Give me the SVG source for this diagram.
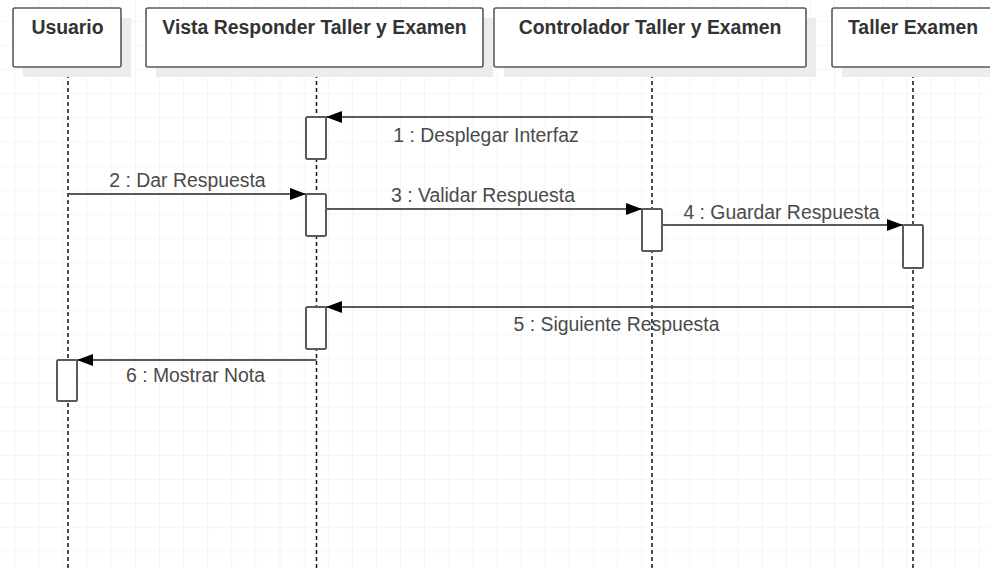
<svg xmlns="http://www.w3.org/2000/svg" width="990" height="569" viewBox="0 0 990 569">
<style>
.shadow{fill:#ececec;stroke:none}
.box{fill:#ffffff;stroke:#5a5a5a;stroke-width:1.6}
.title{font-family:"Liberation Sans",Arial,sans-serif;font-size:19.4px;font-weight:bold;fill:#333333;text-anchor:middle}
.life{stroke:#111111;stroke-width:1.5;stroke-dasharray:4,3;fill:none}
.act{fill:#ffffff;stroke:#5a5a5a;stroke-width:2}
.msg{stroke:#5a5a5a;stroke-width:2;fill:none;marker-end:url(#arrow)}
.lbl{font-family:"Liberation Sans",Arial,sans-serif;font-size:19.4px;fill:#4a4a4a;text-anchor:middle}
</style>
<defs>
<pattern id="grid" patternUnits="userSpaceOnUse" x="14.3" y="20.9" width="24.11" height="24.11">
<path d="M0,0 H24.11 M0,0 V24.11" stroke="#ededed" stroke-width="1.2" fill="none"/>
</pattern>
<marker id="arrow" markerUnits="userSpaceOnUse" markerWidth="17" markerHeight="13" refX="16" refY="6" orient="auto">
<path d="M0,0 L16,6 L0,12 z" fill="#000000"/>
</marker>
</defs>
<rect x="0" y="0" width="990" height="569" fill="#ffffff"/>
<rect x="0" y="0" width="990" height="569" fill="url(#grid)"/>

<g id="lifelines">
<line class="life" x1="68" y1="67" x2="68" y2="569"/>
<line class="life" x1="316.5" y1="67" x2="316.5" y2="569"/>
<line class="life" x1="652" y1="67" x2="652" y2="569"/>
<line class="life" x1="913" y1="67" x2="913" y2="569"/>
</g>

<g id="usuario">
<rect class="shadow" x="23" y="18" width="108" height="59"/>
<rect class="box" x="13" y="8" width="108" height="59" rx="2"/>
<text class="title" x="67.5" y="34">Usuario</text>
</g>
<g id="vista">
<rect class="shadow" x="156" y="18" width="337" height="59"/>
<rect class="box" x="146" y="8" width="337" height="59" rx="2"/>
<text class="title" x="314.5" y="34">Vista Responder Taller y Examen</text>
</g>
<g id="controlador">
<rect class="shadow" x="504" y="18" width="312" height="59"/>
<rect class="box" x="494" y="8" width="312" height="59" rx="2"/>
<text class="title" x="650" y="34">Controlador Taller y Examen</text>
</g>
<g id="taller">
<rect class="shadow" x="842" y="18" width="162" height="59"/>
<rect class="box" x="832" y="8" width="162" height="59" rx="2"/>
<text class="title" x="913" y="34">Taller Examen</text>
</g>

<g id="activations">
<rect class="act" x="306" y="117" width="20" height="42" rx="1.5"/>
<rect class="act" x="306" y="194" width="20" height="42" rx="1.5"/>
<rect class="act" x="642" y="209" width="20" height="42" rx="1.5"/>
<rect class="act" x="903" y="225" width="20" height="43" rx="1.5"/>
<rect class="act" x="306" y="307" width="20" height="42" rx="1.5"/>
<rect class="act" x="57" y="360" width="20" height="41" rx="1.5"/>
</g>

<g id="connectors">
<line class="msg" x1="652" y1="117" x2="326" y2="117"/>
<text class="lbl" x="486" y="142">1 : Desplegar Interfaz</text>
<line class="msg" x1="68" y1="194" x2="306" y2="194"/>
<text class="lbl" x="187.5" y="187">2 : Dar Respuesta</text>
<line class="msg" x1="326" y1="209" x2="642" y2="209"/>
<text class="lbl" x="483" y="202">3 : Validar Respuesta</text>
<line class="msg" x1="662" y1="225" x2="903" y2="225"/>
<text class="lbl" x="781.5" y="219">4 : Guardar Respuesta</text>
<line class="msg" x1="913" y1="307" x2="326" y2="307"/>
<text class="lbl" x="616.5" y="331">5 : Siguiente Respuesta</text>
<line class="msg" x1="316.5" y1="360" x2="77" y2="360"/>
<text class="lbl" x="195.5" y="382">6 : Mostrar Nota</text>
</g>
</svg>
